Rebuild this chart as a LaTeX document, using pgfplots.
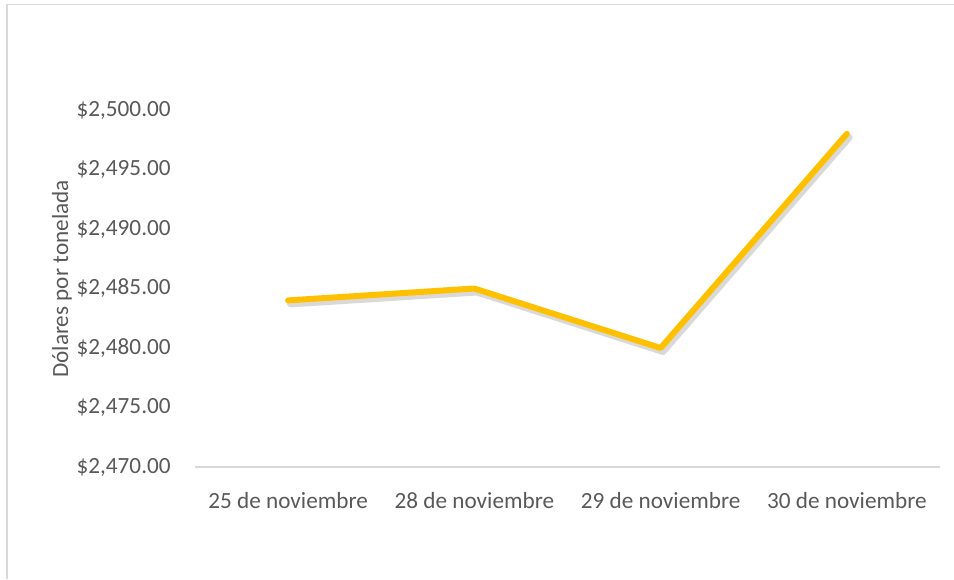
\documentclass[border=0pt]{standalone}
\usepackage{pgfplots}
\pgfplotsset{compat=1.18}
\usepackage{fontspec}
\setmainfont{Carlito}
\definecolor{linegold}{HTML}{FFC000}
\definecolor{gridgray}{HTML}{D9D9D9}
\definecolor{textgray}{HTML}{595959}
\begin{document}
\begin{tikzpicture}
\path[use as bounding box] (0,0) rectangle (477pt,289.5pt);
\draw[gridgray, line width=0.9pt] (3.5pt,0) -- (3.5pt,287.25pt) -- (477pt,287.25pt);
\begin{axis}[
  at={(97.5pt,56pt)}, anchor=south west,
  scale only axis, width=372.5pt, height=178.5pt,
  xmin=-0.5, xmax=3.5, ymin=2470, ymax=2500,
  axis y line*=left,
  y axis line style={draw=none},
  axis x line*=bottom,
  x axis line style={gridgray, line width=1pt, -},
  xtick={0,1,2,3},
  xticklabels={25 de noviembre, 28 de noviembre, 29 de noviembre, 30 de noviembre},
  ytick={2470,2475,2480,2485,2490,2495,2500},
  yticklabels={{\$2,470.00},{\$2,475.00},{\$2,480.00},{\$2,485.00},{\$2,490.00},{\$2,495.00},{\$2,500.00}},
  major tick length=0pt,
  tick label style={font=\fontsize{11.6}{13}\selectfont, text=textgray},
  yticklabel style={anchor=east, inner sep=0pt, xshift=-12pt},
  xticklabel style={anchor=north, inner sep=0pt, yshift=-12.5pt},
  ylabel={Dólares por tonelada},
  ylabel style={at={(axis description cs:-0.1785,0.5266)}, anchor=center, rotate=0, font=\fontsize{11.6}{13}\selectfont, text=textgray},
  clip=false,
]
\addplot[black, opacity=0.15, line width=3.4pt, line cap=round, line join=round, shift={(1.2pt,-1.8pt)}] coordinates {(0,2484) (1,2485) (2,2480) (3,2498)};
\addplot[linegold, line width=3pt, line cap=round, line join=round] coordinates {(0,2484) (1,2485) (2,2480) (3,2498)};
\end{axis}
\end{tikzpicture}
\end{document}
